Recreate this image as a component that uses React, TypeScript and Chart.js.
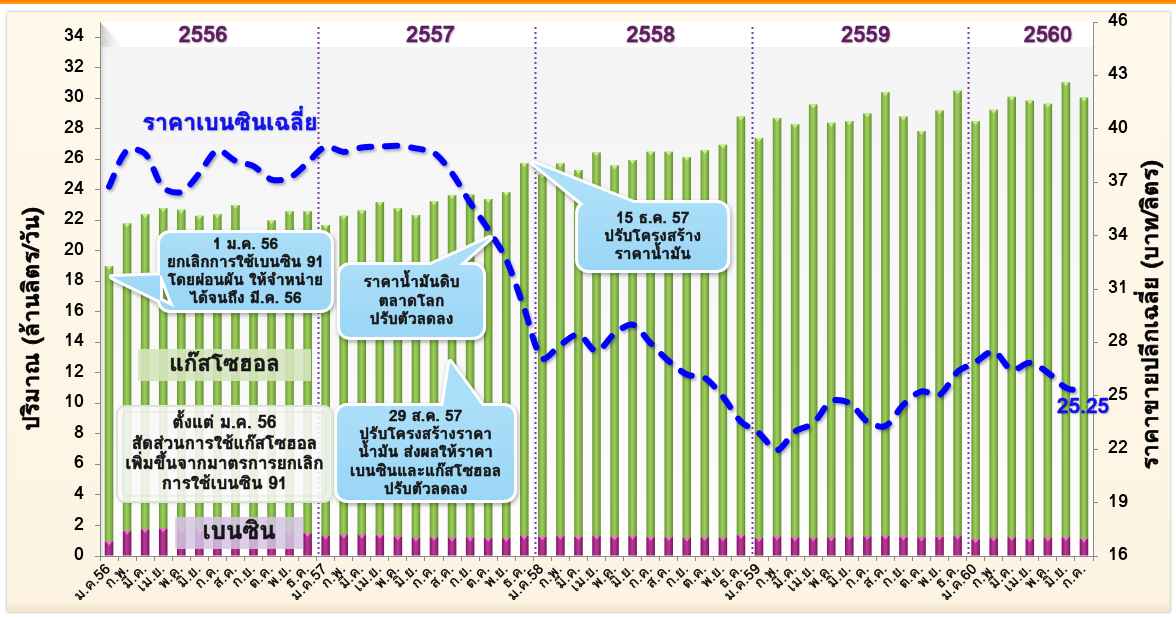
import React, { useEffect, useRef } from "react";
import { Chart, registerables } from "chart.js";

Chart.register(...registerables);

const FONT = "Loma, 'DejaVu Sans', sans-serif";

// ---------- data ----------
const monthLabels = [
  "ม.ค.56", "ก.พ.", "มี.ค.", "เม.ย.", "พ.ค.", "มิ.ย.", "ก.ค.", "ส.ค.", "ก.ย.", "ต.ค.", "พ.ย.", "ธ.ค.",
  "ม.ค.57", "ก.พ.", "มี.ค.", "เม.ย.", "พ.ค.", "มิ.ย.", "ก.ค.", "ส.ค.", "ก.ย.", "ต.ค.", "พ.ย.", "ธ.ค.",
  "ม.ค.58", "ก.พ.", "มี.ค.", "เม.ย.", "พ.ค.", "มิ.ย.", "ก.ค.", "ส.ค.", "ก.ย.", "ต.ค.", "พ.ย.", "ธ.ค.",
  "ม.ค.59", "ก.พ.", "มี.ค.", "เม.ย.", "พ.ค.", "มิ.ย.", "ก.ค.", "ส.ค.", "ก.ย.", "ต.ค.", "พ.ย.", "ธ.ค.",
  "ม.ค.60", "ก.พ.", "มี.ค.", "เม.ย.", "พ.ค.", "มิ.ย.", "ก.ค.",
];

// เบนซิน (ล้านลิตร/วัน)
const benzinVolume = [
  0.95, 1.65, 1.75, 1.8, 1.75, 1.7, 1.7, 1.65, 1.6, 1.6, 1.55, 1.5,
  1.33, 1.4, 1.4, 1.37, 1.28, 1.2, 1.24, 1.2, 1.22, 1.18, 1.18, 1.33,
  1.27, 1.33, 1.27, 1.33, 1.27, 1.33, 1.24, 1.24, 1.2, 1.24, 1.22, 1.37,
  1.18, 1.28, 1.22, 1.22, 1.22, 1.27, 1.29, 1.33, 1.27, 1.22, 1.27, 1.33,
  1.1, 1.2, 1.24, 1.14, 1.2, 1.24, 1.14,
];

// แก๊สโซฮอล (ล้านลิตร/วัน)
const gasoholVolume = [
  18.05, 20.15, 20.65, 21.0, 20.95, 20.6, 20.7, 21.35, 19.4, 20.4, 21.05, 21.1,
  20.37, 20.9, 21.25, 21.83, 21.52, 21.15, 22.01, 22.45, 22.48, 22.22, 22.67, 24.42,
  23.73, 24.42, 24.03, 25.12, 24.33, 24.62, 25.26, 25.26, 24.95, 25.36, 25.73, 27.43,
  26.22, 27.42, 27.08, 28.38, 27.18, 27.23, 27.71, 29.07, 27.53, 26.63, 27.93, 29.17,
  27.4, 28.05, 28.86, 28.71, 28.45, 29.81, 28.91,
];

// ราคาเบนซินเฉลี่ย (บาท/ลิตร)
const avgBenzinPrice = [
  36.75, 38.8, 38.6, 36.7, 36.45, 37.5, 38.8, 38.2, 37.9, 37.15, 37.25, 38.1,
  39.0, 38.7, 38.95, 39.0, 39.05, 38.9, 38.65, 37.5, 35.85, 34.35, 32.65, 29.9,
  27.1, 27.85, 28.45, 27.5, 28.5, 29.0, 27.95, 26.95, 26.2, 26.0, 24.95, 23.55,
  22.9, 21.95, 23.0, 23.45, 24.7, 24.6, 23.55, 23.3, 24.5, 25.25, 25.05, 26.35,
  26.9, 27.5, 26.45, 26.85, 26.3, 25.45, 25.25,
];

const volumeTicks = { min: 0, max: 35, step: 2, last: 34 };
const priceTicks = { min: 16, max: 46, step: 3 };

const yearNames = ["2556", "2557", "2558", "2559", "2560"];
const yearNameAt = [5.2, 17.8, 30.0, 41.9, 52.0];
const yearDividerAt = [11.59, 23.59, 35.59, 47.59];

// ---------- annotations (x in category index, y in left-axis units) ----------
type Pt = [number, number];
type Note = {
  lines: string[];
  box: [number, number, number, number]; // x1, yTop, x2, yBottom
  tail?: Pt[];
  kind: "blue" | "white" | "green" | "purple";
  size: number;
  lh: number;
};

const notes: Note[] = [
  {
    lines: ["1 ม.ค. 56", "ยกเลิกการใช้เบนซิน 91", "โดยผ่อนผัน ให้จำหน่าย", "ได้จนถึง มี.ค. 56"],
    box: [2.82, 21.17, 12.29, 16.12],
    tail: [[2.9, 18.4], [0.16, 18.29], [3.6, 16.3]],
    kind: "blue", size: 15.5, lh: 18,
  },
  {
    lines: ["ราคาน้ำมันดิบ", "ตลาดโลก", "ปรับตัวลดลง"],
    box: [12.79, 19.07, 20.72, 14.35],
    tail: [[17.67, 19.0], [21.1, 20.84], [19.33, 19.0]],
    kind: "blue", size: 15.5, lh: 18.3,
  },
  {
    lines: ["29 ส.ค. 57", "ปรับโครงสร้างราคา", "น้ำมัน ส่งผลให้ราคา", "เบนซินและแก๊สโซฮอล", "ปรับตัวลดลง"],
    box: [12.63, 9.83, 22.44, 3.67],
    tail: [[18.5, 9.75], [18.89, 12.72], [20.72, 9.75]],
    kind: "blue", size: 15.5, lh: 18.1,
  },
  {
    lines: ["15 ธ.ค. 57", "ปรับโครงสร้าง", "ราคาน้ำมัน"],
    box: [25.98, 23.14, 34.24, 18.75],
    tail: [[26.3, 23.05], [23.49, 25.76], [29.25, 23.05]],
    kind: "blue", size: 15.5, lh: 18.3,
  },
  {
    lines: ["ตั้งแต่ ม.ค. 56", "สัดส่วนการใช้แก๊สโซฮอล", "เพิ่มขึ้นจากมาตรการยกเลิก", "การใช้เบนซิน 91"],
    box: [0.44, 9.83, 12.35, 3.54],
    kind: "white", size: 17, lh: 20.3,
  },
  {
    lines: ["แก๊สโซฮอล"],
    box: [1.61, 13.57, 11.19, 11.47],
    kind: "green", size: 22.5, lh: 24,
  },
  {
    lines: ["เบนซิน"],
    box: [3.66, 2.56, 10.75, 0.46],
    kind: "purple", size: 24, lh: 24,
  },
];

const priceLabel = { text: "ราคาเบนซินเฉลี่ย", x: 6.7, y: 28.25 };

function rr(ctx: CanvasRenderingContext2D, x: number, y: number, w: number, h: number, r: number) {
  ctx.moveTo(x + r, y);
  ctx.arcTo(x + w, y, x + w, y + h, r);
  ctx.arcTo(x + w, y + h, x, y + h, r);
  ctx.arcTo(x, y + h, x, y, r);
  ctx.arcTo(x, y, x + w, y, r);
  ctx.closePath();
}

function boldText(ctx: CanvasRenderingContext2D, s: string, x: number, y: number, sw = 0.6) {
  ctx.fillText(s, x, y);
  ctx.save();
  ctx.shadowColor = "transparent";
  ctx.lineWidth = sw;
  ctx.strokeStyle = ctx.fillStyle as string;
  ctx.lineJoin = "round";
  ctx.strokeText(s, x, y);
  ctx.restore();
}

const decorPlugin = {
  id: "decor",
  beforeDraw(chart: any) {
    const { ctx, chartArea } = chart;
    const { left, top, right, bottom } = chartArea;
    ctx.save();
    const bg = ctx.createLinearGradient(0, top, 0, bottom);
    bg.addColorStop(0, "#F3F3F3");
    bg.addColorStop(1, "#FDFDFD");
    ctx.fillStyle = bg;
    ctx.fillRect(left, top, right - left, bottom - top);
    ctx.fillStyle = "#FFFFFF";
    ctx.fillRect(left, top, right - left, 25);
    const g2 = ctx.createLinearGradient(left, 0, left + 24, 0);
    g2.addColorStop(0, "rgba(150,150,150,0.55)");
    g2.addColorStop(1, "rgba(230,230,230,0.0)");
    ctx.fillStyle = g2;
    ctx.beginPath();
    ctx.moveTo(left, top);
    ctx.lineTo(left + 24, top + 25);
    ctx.lineTo(left, top + 25);
    ctx.closePath();
    ctx.fill();
    const g3 = ctx.createLinearGradient(left, 0, left + 6, 0);
    g3.addColorStop(0, "rgba(150,150,150,0.45)");
    g3.addColorStop(1, "rgba(220,220,220,0)");
    ctx.fillStyle = g3;
    ctx.fillRect(left, top + 25, 6, bottom - top - 25);
    ctx.restore();
  },
  beforeDatasetsDraw(chart: any) {
    const { ctx, chartArea, scales } = chart;
    ctx.save();
    ctx.strokeStyle = "#7A3AB0";
    ctx.lineWidth = 2;
    ctx.setLineDash([2, 3]);
    yearDividerAt.forEach((v) => {
      const x = Math.round(scales.x.getPixelForValue(v)) + 0.5;
      ctx.beginPath();
      ctx.moveTo(x, chartArea.top + 5);
      ctx.lineTo(x, chartArea.bottom);
      ctx.stroke();
    });
    ctx.restore();
  },
  beforeDatasetDraw(chart: any, args: any) {
    if (args.meta.type === "line") {
      const ctx = chart.ctx;
      ctx.save();
      ctx.shadowColor = "rgba(0,0,60,0.35)";
      ctx.shadowBlur = 3;
      ctx.shadowOffsetX = 1.5;
      ctx.shadowOffsetY = 2;
    }
  },
  afterDatasetDraw(chart: any, args: any) {
    const ctx = chart.ctx;
    if (args.meta.type === "line") {
      ctx.restore();
      return;
    }
    const isBenzin = args.index === 0;
    ctx.save();
    args.meta.data.forEach((el: any) => {
      const { x, y, base, width } = el.getProps(["x", "y", "base", "width"], true);
      const l = x - width / 2;
      const t = Math.min(y, base);
      const h = Math.abs(base - y);
      const g = ctx.createLinearGradient(l, 0, l + width, 0);
      g.addColorStop(0, "rgba(0,0,0,0.22)");
      g.addColorStop(0.45, "rgba(255,255,255,0.16)");
      g.addColorStop(1, "rgba(0,0,0,0.3)");
      ctx.fillStyle = g;
      ctx.fillRect(l, t, width, h);
      ctx.fillStyle = isBenzin ? "rgba(255,120,220,0.9)" : "rgba(200,240,140,0.95)";
      ctx.beginPath();
      ctx.moveTo(l + 1, t);
      ctx.lineTo(l + width - 1, t);
      ctx.lineTo(x, t + 4);
      ctx.closePath();
      ctx.fill();
    });
    ctx.restore();
  },
  afterDraw(chart: any) {
    const { ctx, chartArea, scales } = chart;
    const px = (v: number) => scales.x.getPixelForValue(v);
    const py = (v: number) => scales.y.getPixelForValue(v);
    ctx.save();

    // year names
    ctx.font = `bold 22px ${FONT}`;
    ctx.textAlign = "center";
    ctx.textBaseline = "middle";
    ctx.fillStyle = "#5E1B60";
    ctx.shadowColor = "rgba(0,0,0,0.3)";
    ctx.shadowBlur = 2;
    ctx.shadowOffsetX = 1;
    ctx.shadowOffsetY = 1;
    yearNames.forEach((n, i) => boldText(ctx, n, px(yearNameAt[i]), chartArea.top + 15, 0.5));

    // price series label
    ctx.font = `bold 23px ${FONT}`;
    ctx.fillStyle = "#1010F0";
    boldText(ctx, priceLabel.text, px(priceLabel.x), py(priceLabel.y), 0.6);

    // last value label
    const last = avgBenzinPrice.length - 1;
    ctx.font = `bold 21px ${FONT}`;
    boldText(
      ctx,
      avgBenzinPrice[last].toFixed(2),
      px(last) - 1,
      scales.y1.getPixelForValue(avgBenzinPrice[last]) + 17,
      0.5
    );
    ctx.shadowColor = "transparent";

    // notes
    notes.forEach((n) => {
      const x1 = px(n.box[0]), y1 = py(n.box[1]), x2 = px(n.box[2]), y2 = py(n.box[3]);
      const w = x2 - x1, h = y2 - y1;
      const shape = () => {
        ctx.beginPath();
        rr(ctx, x1, y1, w, h, n.kind === "blue" ? 10 : n.kind === "white" ? 8 : 0);
        if (n.tail) {
          ctx.moveTo(px(n.tail[0][0]), py(n.tail[0][1]));
          ctx.lineTo(px(n.tail[1][0]), py(n.tail[1][1]));
          ctx.lineTo(px(n.tail[2][0]), py(n.tail[2][1]));
          ctx.closePath();
        }
      };
      if (n.kind === "blue") {
        ctx.save();
        ctx.shadowColor = "rgba(0,0,0,0.35)";
        ctx.shadowBlur = 4;
        ctx.shadowOffsetX = 1;
        ctx.shadowOffsetY = 2;
        shape();
        ctx.strokeStyle = "#FFFFFF";
        ctx.lineWidth = 6;
        ctx.lineJoin = "round";
        ctx.stroke();
        ctx.restore();
        shape();
        const g = ctx.createLinearGradient(0, y1, 0, y2);
        g.addColorStop(0, "#ABDEF8");
        g.addColorStop(1, "#9AD6F6");
        ctx.fillStyle = g;
        ctx.fill();
      } else if (n.kind === "white") {
        ctx.save();
        ctx.shadowColor = "rgba(0,0,0,0.2)";
        ctx.shadowBlur = 3;
        shape();
        ctx.fillStyle = "rgba(255,255,255,0.86)";
        ctx.fill();
        ctx.restore();
        shape();
        ctx.strokeStyle = "#DDE3D2";
        ctx.lineWidth = 2;
        ctx.stroke();
        ctx.beginPath();
        rr(ctx, x1 + 6, y1 + 6, w - 12, h - 12, 4);
        ctx.strokeStyle = "rgba(215,225,200,0.7)";
        ctx.lineWidth = 1;
        ctx.stroke();
      } else {
        ctx.fillStyle = n.kind === "green" ? "rgba(214,228,190,0.9)" : "rgba(212,196,226,0.85)";
        ctx.fillRect(x1, y1, w, h);
      }
      ctx.font = `bold ${n.size}px ${FONT}`;
      ctx.fillStyle = "#151515";
      ctx.textAlign = "center";
      ctx.textBaseline = "middle";
      const cx = (x1 + x2) / 2;
      const cy = (y1 + y2) / 2 + 1;
      n.lines.forEach((line, i) => {
        boldText(ctx, line, cx, cy + (i - (n.lines.length - 1) / 2) * n.lh, 0.55);
      });
    });

    // axis titles (both read bottom-to-top)
    ctx.fillStyle = "#000";
    ctx.textAlign = "center";
    ctx.textBaseline = "middle";
    ctx.font = `bold 23.5px ${FONT}`;
    ctx.save();
    ctx.translate(34, 319);
    ctx.rotate(-Math.PI / 2);
    boldText(ctx, "ปริมาณ (ล้านลิตร/วัน)", 0, 0, 0.6);
    ctx.restore();
    ctx.save();
    ctx.translate(1153, 315);
    ctx.rotate(-Math.PI / 2);
    boldText(ctx, "ราคาขายปลีกเฉลี่ย (บาท/ลิตร)", 0, 0, 0.6);
    ctx.restore();

    ctx.restore();
  },
};

export default function App() {
  const ref = useRef<HTMLCanvasElement>(null);
  useEffect(() => {
    const canvas = ref.current!;
    const axisColor = "#8A8A8A";
    const chart = new Chart(canvas, {
      type: "bar",
      data: {
        labels: monthLabels,
        datasets: [
          {
            type: "bar",
            label: "เบนซิน",
            data: benzinVolume,
            backgroundColor: "#A8137F",
            yAxisID: "y",
            stack: "vol",
            order: 2,
            barPercentage: 0.47,
            categoryPercentage: 1,
          },
          {
            type: "bar",
            label: "แก๊สโซฮอล",
            data: gasoholVolume,
            backgroundColor: "#87C43C",
            yAxisID: "y",
            stack: "vol",
            order: 2,
            barPercentage: 0.47,
            categoryPercentage: 1,
          },
          {
            type: "line",
            label: "ราคาเบนซินเฉลี่ย",
            data: avgBenzinPrice,
            yAxisID: "y1",
            borderColor: "#0000FF",
            borderWidth: 6,
            borderDash: [12, 14],
            borderCapStyle: "round",
            borderJoinStyle: "round",
            tension: 0.3,
            pointRadius: 0,
            fill: false,
            order: 0,
          } as any,
        ],
      },
      options: {
        responsive: false,
        animation: false,
        layout: { padding: { top: 22, left: 0, right: 0, bottom: 0 } },
        plugins: { legend: { display: false }, tooltip: { enabled: false } },
        scales: {
          x: {
            stacked: true,
            offset: true,
            grid: { display: true, drawOnChartArea: false, tickLength: 5, color: axisColor, offset: true },
            border: { display: true, color: axisColor },
            ticks: {
              autoSkip: false,
              maxRotation: 45,
              minRotation: 45,
              padding: 0,
              color: "#111",
              font: { family: FONT, size: 15, weight: "bold" },
            },
            afterFit: (s: any) => {
              s.height = 61;
            },
          },
          y: {
            position: "left",
            stacked: true,
            min: volumeTicks.min,
            max: volumeTicks.max,
            ticks: {
              stepSize: volumeTicks.step,
              padding: 11,
              color: "#000",
              font: { family: FONT, size: 18, weight: "bold" },
            },
            grid: { drawOnChartArea: false, tickLength: 5, color: axisColor },
            border: { display: true, color: axisColor },
            afterBuildTicks: (s: any) => {
              const t: { value: number }[] = [];
              for (let v = volumeTicks.min; v <= volumeTicks.last; v += volumeTicks.step) t.push({ value: v });
              s.ticks = t;
            },
            afterFit: (s: any) => {
              s.width = 100;
            },
          },
          y1: {
            position: "right",
            min: priceTicks.min,
            max: priceTicks.max,
            ticks: {
              stepSize: priceTicks.step,
              padding: 10,
              color: "#000",
              font: { family: FONT, size: 18, weight: "bold" },
            },
            grid: { drawOnChartArea: false, tickLength: 5, color: axisColor },
            border: { display: true, color: axisColor },
            afterFit: (s: any) => {
              s.width = 83;
            },
          },
        },
      } as any,
      plugins: [decorPlugin],
    });
    return () => chart.destroy();
  }, []);

  return (
    <div style={{ position: "relative", width: 1176, height: 617, overflow: "hidden", background: "#FFFFFF" }}>
      <style>{`body{margin:0}`}</style>
      <div
        style={{
          position: "absolute",
          left: 0,
          top: 0,
          width: "100%",
          height: 4,
          background: "linear-gradient(#FF7A00, #FFA21A)",
        }}
      />
      <div
        style={{
          position: "absolute",
          left: 7,
          top: 12,
          right: 6,
          bottom: 5,
          background: "linear-gradient(#FFF9EC, #FDF3E2)",
          boxShadow: "0 0 3px rgba(0,0,0,0.35), inset 0 -10px 10px -6px rgba(190,160,110,0.25)",
        }}
      />
      <canvas ref={ref} width={1176} height={617} style={{ position: "absolute", left: 0, top: 0 }} />
    </div>
  );
}
